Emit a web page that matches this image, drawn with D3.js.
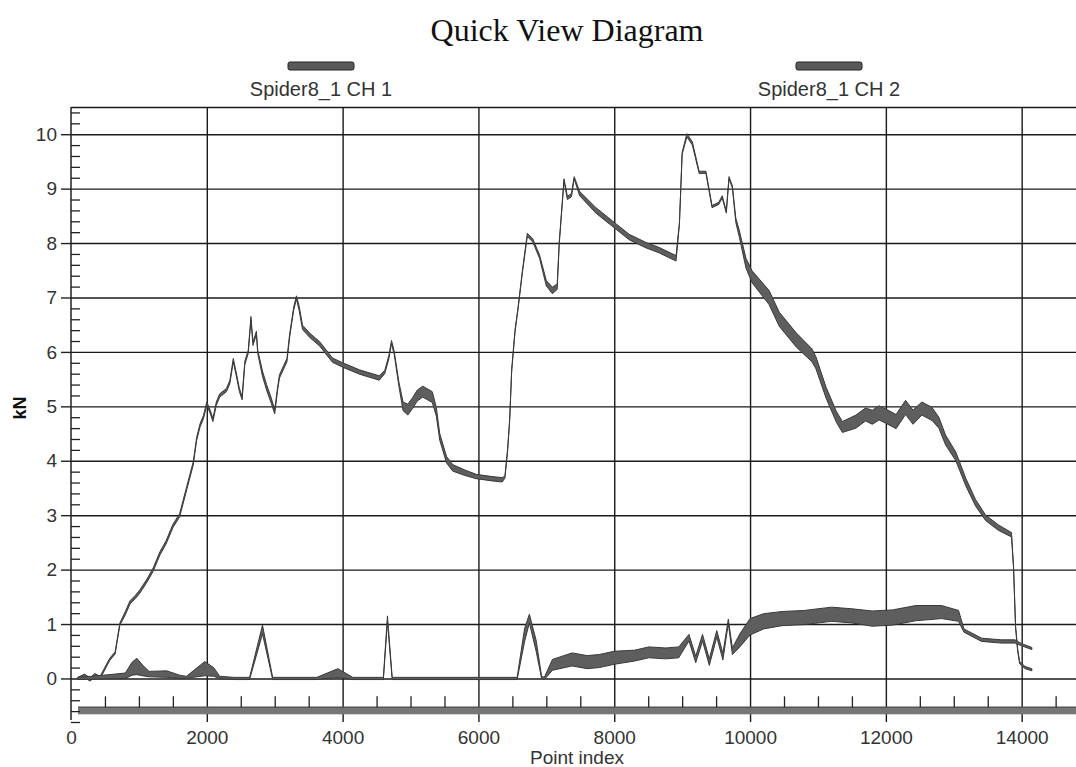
<!DOCTYPE html>
<html>
<head>
<meta charset="utf-8">
<script src="https://cdnjs.cloudflare.com/ajax/libs/d3/7.8.5/d3.min.js"></script>
<style>
  body { margin: 0; background: #fff; }
</style>
</head>
<body>
<svg id="quick-view" width="1076" height="767"></svg>
<script>
// values: point index, kN and the half width of the noisy band
var ch1Index = [100, 200, 280, 350, 430, 570, 650, 720, 800, 870, 950, 1015, 1120, 1210, 1310, 1400, 1500, 1600, 1705, 1800,
  1850, 1900, 1950, 2000, 2050, 2090, 2140, 2190, 2290, 2340, 2390, 2440, 2480, 2520, 2560, 2610, 2650, 2680, 2730, 2750,
  2820, 2880, 2950, 3000, 3040, 3070, 3180, 3220, 3280, 3320, 3360, 3410, 3520, 3660, 3850, 4000, 4250, 4540, 4620, 4680,
  4720, 4760, 4830, 4890, 4960, 5030, 5100, 5180, 5320, 5380, 5430, 5530, 5620, 5800, 5970, 6200, 6350, 6390, 6430, 6460,
  6490, 6540, 6580, 6650, 6720, 6800, 6900, 7000, 7090, 7160, 7190, 7260, 7310, 7370, 7410, 7490, 7730, 7970, 8220, 8470,
  8660, 8910, 8960, 9000, 9070, 9150, 9250, 9350, 9440, 9540, 9590, 9650, 9690, 9740, 9790, 9840, 9940, 10030, 10280, 10430,
  10680, 10910, 10970, 11120, 11270, 11360, 11560, 11700, 11800, 11900, 12000, 12150, 12290, 12400, 12530, 12680, 12780, 12880, 13030, 13180,
  13320, 13470, 13660, 13850, 13880, 13910, 13940, 13970, 14050, 14150];
var ch1Value = [0.0, 0.05, -0.02, 0.06, 0.02, 0.35, 0.47, 1.0, 1.2, 1.4, 1.5, 1.6, 1.8, 2.0, 2.3, 2.5, 2.8, 3.0, 3.5, 3.95,
  4.4, 4.65, 4.8, 5.05, 4.9, 4.75, 5.05, 5.2, 5.3, 5.45, 5.85, 5.55, 5.3, 5.15, 5.8, 6.0, 6.62, 6.15, 6.35, 6.0,
  5.6, 5.35, 5.1, 4.9, 5.3, 5.55, 5.85, 6.3, 6.8, 7.0, 6.8, 6.45, 6.3, 6.15, 5.85, 5.76, 5.63, 5.52, 5.63, 5.9,
  6.18, 5.98, 5.4, 5.0, 4.94, 5.06, 5.2, 5.27, 5.17, 4.9, 4.44, 4.02, 3.87, 3.78, 3.71, 3.67, 3.65, 3.7, 4.2, 4.75,
  5.67, 6.4, 6.77, 7.5, 8.15, 8.05, 7.75, 7.26, 7.13, 7.2, 8.0, 9.16, 8.83, 8.88, 9.2, 8.91, 8.6, 8.36, 8.11, 7.96,
  7.87, 7.72, 8.36, 9.65, 9.98, 9.83, 9.3, 9.3, 8.67, 8.73, 8.85, 8.57, 9.2, 9.03, 8.42, 8.18, 7.63, 7.38, 7.0, 6.6,
  6.22, 5.94, 5.8, 5.25, 4.81, 4.62, 4.72, 4.85, 4.8, 4.88, 4.82, 4.72, 4.98, 4.8, 4.96, 4.86, 4.7, 4.38, 4.08, 3.6,
  3.23, 2.95, 2.77, 2.64, 2.05, 0.95, 0.53, 0.29, 0.2, 0.16];
var ch1Spread = [0.02, 0.03, 0.03, 0.03, 0.02, 0.02, 0.02, 0.02, 0.03, 0.03, 0.03, 0.03, 0.03, 0.03, 0.03, 0.03, 0.03, 0.03, 0.03, 0.03,
  0.03, 0.03, 0.03, 0.03, 0.03, 0.03, 0.03, 0.03, 0.03, 0.03, 0.03, 0.03, 0.03, 0.03, 0.03, 0.03, 0.03, 0.03, 0.03, 0.03,
  0.05, 0.05, 0.05, 0.04, 0.03, 0.03, 0.03, 0.03, 0.03, 0.03, 0.04, 0.04, 0.04, 0.04, 0.04, 0.04, 0.04, 0.04, 0.03, 0.03,
  0.03, 0.03, 0.04, 0.08, 0.1, 0.1, 0.1, 0.1, 0.1, 0.08, 0.06, 0.06, 0.06, 0.05, 0.04, 0.04, 0.04, 0.02, 0.02, 0.02,
  0.02, 0.02, 0.02, 0.02, 0.03, 0.03, 0.03, 0.05, 0.06, 0.05, 0.02, 0.02, 0.03, 0.03, 0.02, 0.04, 0.05, 0.05, 0.05, 0.05,
  0.05, 0.05, 0.02, 0.02, 0.03, 0.03, 0.02, 0.02, 0.02, 0.02, 0.02, 0.02, 0.02, 0.02, 0.04, 0.06, 0.09, 0.11, 0.13, 0.13,
  0.13, 0.12, 0.11, 0.1, 0.1, 0.1, 0.12, 0.12, 0.13, 0.13, 0.13, 0.13, 0.13, 0.13, 0.12, 0.12, 0.1, 0.09, 0.08, 0.07,
  0.06, 0.05, 0.05, 0.04, 0.02, 0.02, 0.02, 0.02, 0.02, 0.02];

var ch2Index = [100, 400, 800, 900, 970, 1050, 1150, 1410, 1600, 1700, 1800, 1970, 2100, 2190, 2400, 2630, 2820, 2970, 3620, 3930,
  4150, 4600, 4660, 4730, 6570, 6680, 6750, 6850, 6930, 6970, 7090, 7380, 7600, 7780, 8000, 8300, 8510, 8760, 8950, 9100,
  9200, 9300, 9400, 9510, 9600, 9680, 9740, 9850, 10000, 10200, 10470, 10800, 11200, 11500, 11800, 12100, 12440, 12820, 13070, 13150,
  13410, 13700, 13900, 14000, 14150];
var ch2Value = [0.0, 0.02, 0.05, 0.18, 0.22, 0.15, 0.08, 0.08, 0.03, 0.02, 0.08, 0.18, 0.12, 0.02, 0.0, 0.0, 0.9, 0.0, 0.0, 0.1,
  0.0, 0.0, 1.1, 0.0, 0.0, 0.8, 1.1, 0.6, 0.02, 0.0, 0.25, 0.35, 0.3, 0.32, 0.38, 0.42, 0.48, 0.46, 0.48, 0.75,
  0.35, 0.75, 0.3, 0.82, 0.4, 1.05, 0.5, 0.7, 0.95, 1.05, 1.1, 1.12, 1.18, 1.15, 1.1, 1.12, 1.2, 1.22, 1.15, 0.88,
  0.71, 0.68, 0.68, 0.62, 0.55];
var ch2Spread = [0.02, 0.03, 0.05, 0.12, 0.15, 0.1, 0.05, 0.06, 0.03, 0.02, 0.06, 0.13, 0.08, 0.02, 0.02, 0.02, 0.08, 0.02, 0.02, 0.08,
  0.02, 0.02, 0.05, 0.02, 0.02, 0.12, 0.08, 0.1, 0.02, 0.02, 0.1, 0.12, 0.12, 0.12, 0.12, 0.1, 0.1, 0.1, 0.1, 0.06,
  0.06, 0.06, 0.06, 0.06, 0.06, 0.04, 0.06, 0.12, 0.15, 0.14, 0.13, 0.13, 0.13, 0.13, 0.14, 0.14, 0.14, 0.12, 0.1, 0.03,
  0.03, 0.03, 0.03, 0.02, 0.02];

var seriesNames = ["Spider8_1 CH 1", "Spider8_1 CH 2"];
var xMajorTicks = [0, 2000, 4000, 6000, 8000, 10000, 12000, 14000];
var xMinorTicks = [500, 1000, 1500, 2500, 3000, 3500, 4500, 5000, 5500, 6500, 7000, 7500, 8500, 9000, 9500,
  10500, 11000, 11500, 12500, 13000, 13500, 14500];
var yMajorTicks = [0, 1, 2, 3, 4, 5, 6, 7, 8, 9, 10];

var svg = d3.select("#quick-view"),
    margin = {top: 107, right: 0, bottom: 45, left: 71},
    width = +svg.attr("width") - margin.left - margin.right,
    height = +svg.attr("height") - margin.top - margin.bottom,
    g = svg.append("g").attr("transform", "translate(" + margin.left + "," + margin.top + ")");

// set the ranges
var x = d3.scaleLinear().domain([0, 14800]).range([0, width]);
var y = d3.scaleLinear().domain([-0.8, 10.5]).range([height, 0]);

// gather the rows for each series
function rows(ix, vals, spread) {
  return ix.map(function(d, k) { return {i: d, v: vals[k], s: spread[k]}; });
}
var series = [rows(ch1Index, ch1Value, ch1Spread), rows(ch2Index, ch2Value, ch2Spread)];

// band drawn around each trace
var band = d3.area()
    .x(function(d) { return x(d.i); })
    .y0(function(d) { return y(d.v - d.s); })
    .y1(function(d) { return y(d.v + d.s); });

// title
svg.append("text")
    .attr("x", 567)
    .attr("y", 41)
    .attr("text-anchor", "middle")
    .attr("font-family", "Liberation Serif, Times New Roman, serif")
    .attr("font-size", 32)
    .attr("fill", "#111")
    .text("Quick View Diagram");

// legend
var legendX = [321, 829];
seriesNames.forEach(function(name, k) {
  svg.append("rect")
      .attr("x", legendX[k] - 33)
      .attr("y", 62)
      .attr("width", 66)
      .attr("height", 8)
      .attr("rx", 2)
      .attr("fill", "#5a5a5a")
      .attr("stroke", "#222")
      .attr("stroke-width", 1);
  svg.append("text")
      .attr("x", legendX[k])
      .attr("y", 96)
      .attr("text-anchor", "middle")
      .attr("font-family", "Liberation Sans, Arial, sans-serif")
      .attr("font-size", 20)
      .attr("fill", "#333")
      .text(name);
});

// horizontal grid
var yGrid = d3.axisRight(y).tickValues(yMajorTicks.concat([10.5])).tickSize(width).tickFormat("");
g.append("g").call(function(s) {
  s.call(yGrid);
  s.select(".domain").remove();
  s.selectAll(".tick line").attr("stroke", "#1a1a1a").attr("stroke-width", 1.4);
});

// vertical grid
var xGrid = d3.axisBottom(x).tickValues(xMajorTicks.slice(1)).tickSize(height).tickFormat("");
g.append("g").call(function(s) {
  s.call(xGrid);
  s.select(".domain").remove();
  s.selectAll(".tick line").attr("stroke", "#1a1a1a").attr("stroke-width", 1.4);
});

// Add the series bands
g.selectAll(".trace")
    .data(series)
  .enter().append("path")
    .attr("class", "trace")
    .attr("fill", "#5e5e5e")
    .attr("stroke", "#3a3a3a")
    .attr("stroke-width", 1)
    .attr("stroke-linejoin", "round")
    .attr("d", band);

// bottom bar
g.append("rect")
    .attr("x", 7)
    .attr("y", y(-0.53))
    .attr("width", width - 7)
    .attr("height", 7)
    .attr("fill", "#767676");
g.append("line")
    .attr("x1", 7).attr("x2", width)
    .attr("y1", y(-0.53)).attr("y2", y(-0.53))
    .attr("stroke", "#555").attr("stroke-width", 1.5);

// minor x ticks
var xMinor = d3.axisTop(x).tickValues(xMinorTicks).tickSize(11).tickFormat("");
g.append("g")
    .attr("transform", "translate(0," + y(-0.53) + ")")
    .call(function(s) {
      s.call(xMinor);
      s.select(".domain").remove();
      s.selectAll(".tick line").attr("stroke", "#222").attr("stroke-width", 1.3);
    });

// X axis labels
var xAxis = d3.axisBottom(x).tickValues(xMajorTicks).tickSize(0).tickPadding(9).tickFormat(d3.format("d"));
g.append("g")
    .attr("transform", "translate(0," + height + ")")
    .call(function(s) {
      s.call(xAxis);
      s.select(".domain").remove();
      s.selectAll(".tick text").attr("fill", "#333").attr("font-family", "Liberation Sans, Arial, sans-serif").attr("font-size", 19);
    });

// Y axis with minor ticks inside
var yMinorTicks = d3.range(-4, 53).map(function(k) { return k / 5; }).filter(function(v) { return Math.abs(v - Math.round(v)) > 0.01; });
var yMinor = d3.axisRight(y).tickValues(yMinorTicks).tickSize(9).tickFormat("");
g.append("g").call(function(s) {
  s.call(yMinor);
  s.select(".domain").remove();
  s.selectAll(".tick line").attr("stroke", "#222").attr("stroke-width", 1.3);
});

var yAxis = d3.axisLeft(y).tickValues(yMajorTicks).tickSize(10).tickPadding(4);
g.append("g").call(function(s) {
  s.call(yAxis);
  s.select(".domain").attr("d", "M0,0V" + (height - 2)).attr("stroke", "#222").attr("stroke-width", 1.5);
  s.selectAll(".tick line").attr("stroke", "#222").attr("stroke-width", 1.4);
  s.selectAll(".tick text").attr("fill", "#333").attr("font-family", "Liberation Sans, Arial, sans-serif").attr("font-size", 19);
});

// axis titles
svg.append("text")
    .attr("transform", "translate(26,408) rotate(-90)")
    .attr("text-anchor", "middle")
    .attr("font-family", "Liberation Sans, Arial, sans-serif")
    .attr("font-weight", "bold")
    .attr("font-size", 18)
    .attr("fill", "#111")
    .text("kN");

svg.append("text")
    .attr("x", 577)
    .attr("y", 764)
    .attr("text-anchor", "middle")
    .attr("font-family", "Liberation Sans, Arial, sans-serif")
    .attr("font-size", 19)
    .attr("fill", "#333")
    .text("Point index");
</script>
</body>
</html>
